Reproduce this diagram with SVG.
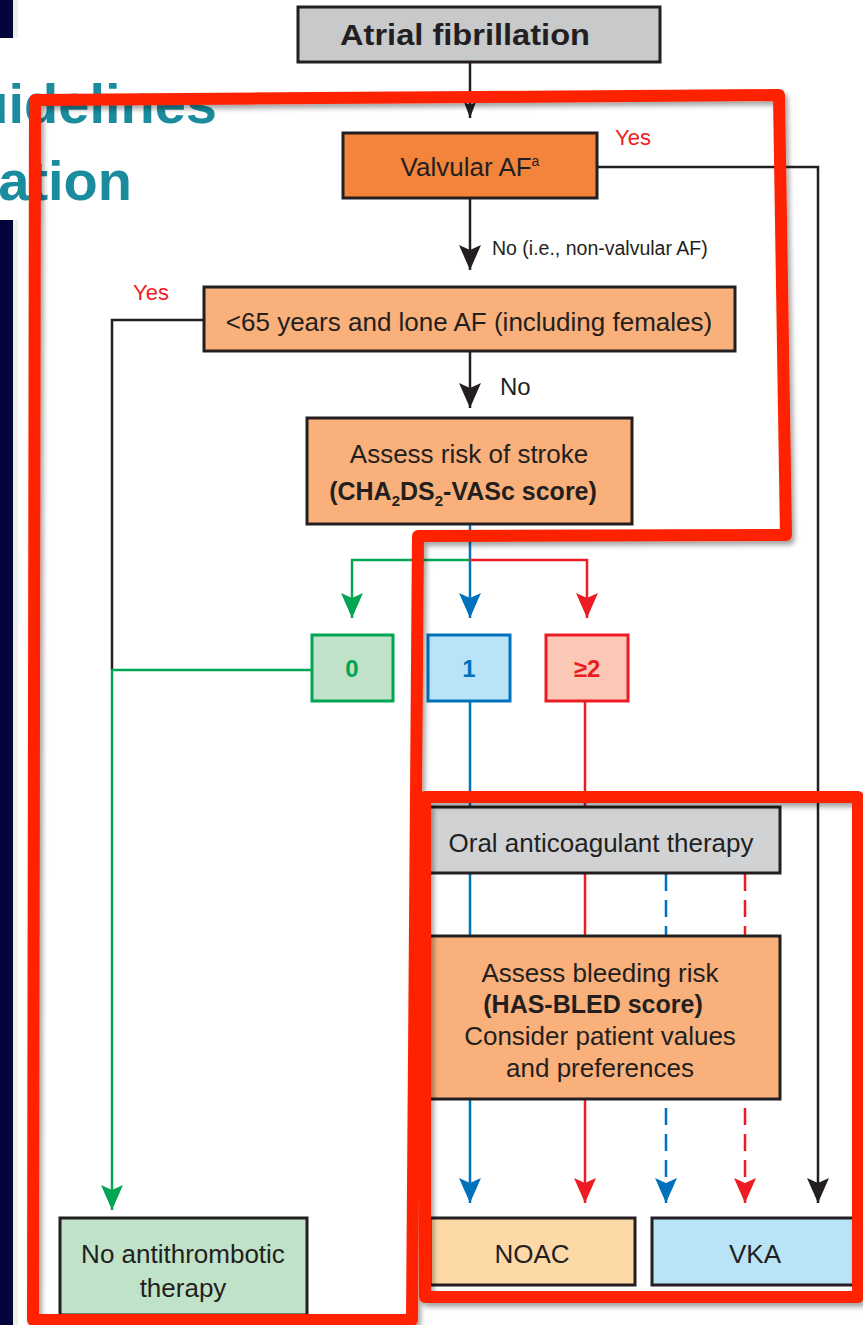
<svg xmlns="http://www.w3.org/2000/svg" width="863" height="1325" viewBox="0 0 863 1325">
<style>
text{font-family:"Liberation Sans",Arial,sans-serif;fill:#231f20}
.box{stroke:#231f20;stroke-width:3}
.t26{font-size:26px}
.b{font-weight:bold}
.ln{fill:none;stroke-width:2.5}
.k{stroke:#231f20}
.g{stroke:#00a651}
.bl{stroke:#0072bc}
.r{stroke:#ed1c24}
.dash{stroke-dasharray:17 9}
.frame{fill:none;stroke:#ff2200;stroke-width:12;stroke-linejoin:round}
.yes{fill:#ed1c24;font-size:22px}
</style>
<defs>
<marker id="ak" markerUnits="userSpaceOnUse" viewBox="0 -11 25 22" refX="25" refY="0" markerWidth="25" markerHeight="22" orient="auto"><path d="M0,-11 L25,0 L0,11 L5,0 Z" fill="#231f20"/></marker>
<marker id="aks" markerUnits="userSpaceOnUse" viewBox="0 -6 16 12" refX="16" refY="0" markerWidth="16" markerHeight="12" orient="auto"><path d="M0,-6 L16,0 L0,6 L3,0 Z" fill="#231f20"/></marker>
<marker id="ag" markerUnits="userSpaceOnUse" viewBox="0 -11 25 22" refX="25" refY="0" markerWidth="25" markerHeight="22" orient="auto"><path d="M0,-11 L25,0 L0,11 L5,0 Z" fill="#00a651"/></marker>
<marker id="ab" markerUnits="userSpaceOnUse" viewBox="0 -11 25 22" refX="25" refY="0" markerWidth="25" markerHeight="22" orient="auto"><path d="M0,-11 L25,0 L0,11 L5,0 Z" fill="#0072bc"/></marker>
<marker id="ar" markerUnits="userSpaceOnUse" viewBox="0 -11 25 22" refX="25" refY="0" markerWidth="25" markerHeight="22" orient="auto"><path d="M0,-11 L25,0 L0,11 L5,0 Z" fill="#ed1c24"/></marker>
<filter id="sh" x="-5%" y="-5%" width="110%" height="110%"><feDropShadow dx="3" dy="4" stdDeviation="2.5" flood-color="#000" flood-opacity="0.35"/></filter>
</defs>
<rect width="863" height="1325" fill="#ffffff"/>
<g id="background">
<rect x="0" y="0" width="13" height="38" fill="#03043a"/>
<rect x="13" y="0" width="5" height="38" fill="#eeeee2"/>
<rect x="0" y="220" width="13" height="1105" fill="#03043a"/>
<rect x="13" y="220" width="5" height="1105" fill="#eeeee2"/>
<text x="217" y="123" text-anchor="end" font-size="56" font-weight="bold" style="fill:#1a8c9e">uidelines</text>
<text x="132" y="200" text-anchor="end" font-size="56" font-weight="bold" style="fill:#1a8c9e">ation</text>
</g>
<g id="connectors">
<path class="ln k" d="M470,62 V118" marker-end="url(#aks)"/>
<path class="ln k" d="M470,198 V270" marker-end="url(#ak)"/>
<path class="ln k" d="M597,167 H818 V1203" marker-end="url(#ak)"/>
<path class="ln k" d="M204,320 H112 V670"/>
<path class="ln k" d="M470,351 V408" marker-end="url(#ak)"/>
<path class="ln bl" d="M470,524 V618" marker-end="url(#ab)"/>
<path class="ln g" d="M470,560 H352 V618" marker-end="url(#ag)"/>
<path class="ln r" d="M470,560 H587 V618" marker-end="url(#ar)"/>
<path class="ln g" d="M312,670 H112 V1210" marker-end="url(#ag)"/>
<path class="ln bl" d="M470,701 V1203" marker-end="url(#ab)"/>
<path class="ln r" d="M585,701 V1203" marker-end="url(#ar)"/>
<path class="ln bl dash" d="M666,874 V1203" marker-end="url(#ab)"/>
<path class="ln r dash" d="M745,874 V1203" marker-end="url(#ar)"/>
<text x="615" y="145" class="yes">Yes</text>
<text x="492" y="255" font-size="19.5">No (i.e., non-valvular AF)</text>
<text x="133" y="300" class="yes">Yes</text>
<text x="500" y="395" font-size="24">No</text>
</g>
<g id="atrial-fibrillation">
<rect class="box" x="298" y="7" width="362" height="55" fill="#c8c9cb"/>
<text x="465" y="45" text-anchor="middle" font-size="30" class="b" textLength="250" lengthAdjust="spacingAndGlyphs">Atrial fibrillation</text>
</g>
<g id="valvular-af">
<rect class="box" x="343" y="133" width="254" height="65" fill="#f3843b"/>
<text x="470" y="176" text-anchor="middle" class="t26">Valvular AF<tspan font-size="14" dy="-10">a</tspan></text>
</g>
<g id="lone-af">
<rect class="box" x="204" y="287" width="531" height="64" fill="#f9b07a"/>
<text x="469" y="331" text-anchor="middle" class="t26">&lt;65 years and lone AF (including females)</text>
</g>
<g id="stroke-risk">
<rect class="box" x="307" y="418" width="325" height="106" fill="#f9b07a"/>
<text x="469" y="463" text-anchor="middle" class="t26">Assess risk of stroke</text>
<text x="463" y="500" text-anchor="middle" font-size="25" class="b">(CHA<tspan font-size="15" dy="6">2</tspan><tspan dy="-6">DS</tspan><tspan font-size="15" dy="6">2</tspan><tspan dy="-6">-VASc score)</tspan></text>
</g>
<g id="score-0">
<rect x="312" y="635" width="81" height="66" fill="#c0e2c8" stroke="#00a651" stroke-width="3"/>
<text x="352" y="677" text-anchor="middle" font-size="24" class="b" style="fill:#00a651">0</text>
</g>
<g id="score-1">
<rect x="428" y="635" width="82" height="66" fill="#b9e3f7" stroke="#0072bc" stroke-width="3"/>
<text x="469" y="677" text-anchor="middle" font-size="24" class="b" style="fill:#0072bc">1</text>
</g>
<g id="score-2">
<rect x="546" y="635" width="82" height="66" fill="#fac8b4" stroke="#ed1c24" stroke-width="3"/>
<text x="587" y="677" text-anchor="middle" font-size="24" class="b" style="fill:#ed1c24">≥2</text>
</g>
<g id="oral-anticoagulant">
<rect class="box" x="429" y="807" width="351" height="66" fill="#d1d2d4"/>
<text x="601" y="852" text-anchor="middle" class="t26">Oral anticoagulant therapy</text>
</g>
<g id="bleeding-risk">
<rect class="box" x="429" y="936" width="351" height="163" fill="#f9b07a"/>
<text x="600" y="982" text-anchor="middle" class="t26">Assess bleeding risk</text>
<text x="593" y="1013" text-anchor="middle" font-size="25" class="b">(HAS-BLED score)</text>
<text x="600" y="1045" text-anchor="middle" class="t26">Consider patient values</text>
<text x="600" y="1077" text-anchor="middle" class="t26">and preferences</text>
</g>
<g id="no-antithrombotic">
<rect class="box" x="60" y="1218" width="247" height="97" fill="#c0e2c8"/>
<text x="183" y="1263" text-anchor="middle" class="t26">No antithrombotic</text>
<text x="183" y="1297" text-anchor="middle" class="t26">therapy</text>
</g>
<g id="noac">
<rect class="box" x="430" y="1218" width="205" height="67" fill="#fdd9a8"/>
<text x="532" y="1263" text-anchor="middle" class="t26">NOAC</text>
</g>
<g id="vka">
<rect class="box" x="652" y="1218" width="210" height="67" fill="#b9e3f7"/>
<text x="755" y="1263" text-anchor="middle" class="t26">VKA</text>
</g>
<g id="highlight-frames" filter="url(#sh)">
<path class="frame" d="M35,100 L779,95 L786,535 L418,536 L412,1320 L33,1320 Z"/>
<path class="frame" d="M425,797 L858,797 L858,1297 L425,1297 Z"/>
</g>
</svg>
